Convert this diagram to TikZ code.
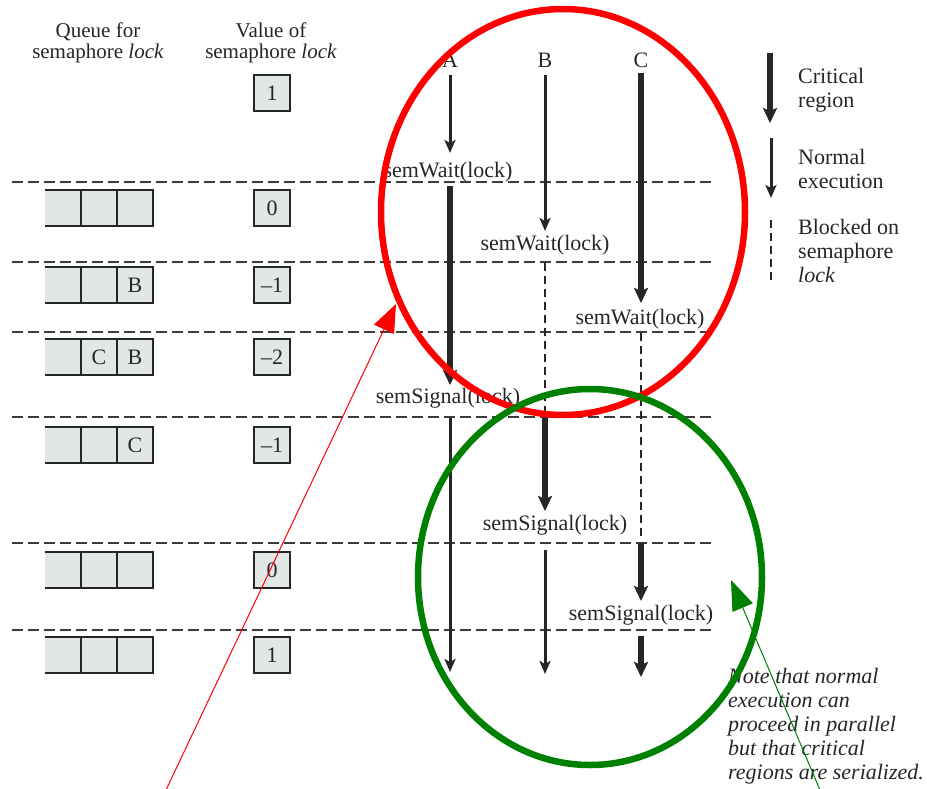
\documentclass[tikz,border=0pt]{standalone}
\usepackage{fontspec}
\setmainfont{Liberation Serif}
\usetikzlibrary{arrows.meta}
\definecolor{qfill}{HTML}{E1E6E6}
\definecolor{ink}{HTML}{262626}
\definecolor{dgreen}{HTML}{008000}
\begin{document}
\begin{tikzpicture}[x=1pt,y=-1pt,
  txt/.style={font=\fontsize{22}{24}\selectfont, text=ink, inner sep=0pt},
  hdr/.style={font=\fontsize{21}{21}\selectfont, text=ink, inner sep=0pt, align=center},
  valbox/.style={draw=ink, line width=2.4pt, fill=qfill, minimum width=36pt, minimum height=36pt, inner sep=0pt, font=\fontsize{22}{24}\selectfont, text=ink},
  qbox/.style={fill=qfill, minimum width=108pt, minimum height=36pt, inner sep=0pt},
  qline/.style={draw=ink, line width=2.4pt},
  cell/.style={font=\fontsize{22}{24}\selectfont, text=ink, inner sep=0pt},
  sep/.style={draw=ink!90, line width=2pt, dash pattern=on 11pt off 5pt},
  normal/.style={draw=ink, line width=3pt, -{Stealth[length=13pt,width=11pt,inset=3pt]}},
  crit/.style={draw=ink, line width=6pt, -{Stealth[length=15pt,width=14pt,inset=3pt]}},
  blocked/.style={draw=ink, line width=2.4pt, dash pattern=on 8pt off 5pt},
  note/.style={font=\fontsize{22}{24}\selectfont\itshape, text=ink, inner sep=0pt, align=left},
  ring/.style={line width=6.5pt},
  pointer/.style={line width=1pt},
]
\useasboundingbox (0,0) rectangle (927,788);

% headers
\node[hdr] (hq) at (98,43) {Queue for\\semaphore \textit{lock}};
\node[hdr] (hv) at (271,43) {Value of\\semaphore \textit{lock}};

% initial value
\node[valbox] (v0) at (272,93) {1};

% separators
\foreach \i/\y in {1/182,2/262,3/332,4/417,5/543,6/630}{
  \coordinate (L\i) at (12,\y);
  \coordinate (R\i) at (712,\y);
  \draw[sep] (L\i) -- (R\i);
}

% queue rows and values
\foreach \i/\y/\a/\b/\c/\v in {1/208///{}/0, 2/285///B/{--1}, 3/357//C/B/{--2}, 4/445///C/{--1}, 5/570///{}/0, 6/655///{}/1}{
  \node[qbox] (q\i) at (99,\y) {};
  \draw[qline] (q\i.north west) -- (q\i.north east) -- (q\i.south east) -- (q\i.south west);
  \draw[qline] ([xshift=36pt]q\i.north west) -- ([xshift=36pt]q\i.south west);
  \draw[qline] ([xshift=72pt]q\i.north west) -- ([xshift=72pt]q\i.south west);
  \node[cell] (qa\i) at (63,\y) {\a};
  \node[cell] (qb\i) at (99,\y) {\b};
  \node[cell] (qc\i) at (135,\y) {\c};
  \node[valbox] (v\i) at (272,\y) {\v};
}

% process labels
\node[txt] (A) at (450,60) {A};
\node[txt] (B) at (545,60) {B};
\node[txt] (C) at (641,60) {C};

% operation labels
\node[txt] (sw1) at (448,172) {semWait(lock)};
\node[txt] (sw2) at (545,245) {semWait(lock)};
\node[txt] (sw3) at (640,319) {semWait(lock)};
\node[txt] (ss1) at (448,398) {semSignal(lock)};
\node[txt] (ss2) at (555,525) {semSignal(lock)};
\node[txt] (ss3) at (641,615) {semSignal(lock)};

% process A
\coordinate (a0) at (450,75);  \coordinate (a1) at (450,153);
\coordinate (a2) at (450,186); \coordinate (a3) at (450,385);
\coordinate (a4) at (450,418); \coordinate (a5) at (450,672);
\draw[normal] (a0) -- (a1);
\draw[crit] (a2) -- (a3);
\draw[normal] (a4) -- (a5);

% process B
\coordinate (b0) at (545,75);  \coordinate (b1) at (545,231);
\coordinate (b2) at (545,263); \coordinate (b3) at (545,417);
\coordinate (b4) at (545,418); \coordinate (b5) at (545,511);
\coordinate (b6) at (545,550); \coordinate (b7) at (545,674);
\draw[normal] (b0) -- (b1);
\draw[blocked] (b2) -- (b3);
\draw[crit] (b4) -- (b5);
\draw[normal] (b6) -- (b7);

% process C
\coordinate (c0) at (641,73);  \coordinate (c1) at (641,303);
\coordinate (c2) at (641,333); \coordinate (c3) at (641,537);
\coordinate (c4) at (641,543); \coordinate (c5) at (641,601);
\coordinate (c6) at (641,636); \coordinate (c7) at (641,677);
\draw[crit] (c0) -- (c1);
\draw[blocked] (c2) -- (c3);
\draw[crit] (c4) -- (c5);
\draw[crit] (c6) -- (c7);

% legend
\coordinate (k0) at (770,53);  \coordinate (k1) at (770,123);
\coordinate (k2) at (771,138); \coordinate (k3) at (771,198);
\coordinate (k4) at (771,220); \coordinate (k5) at (771,281);
\draw[crit] (k0) -- (k1);
\draw[normal] (k2) -- (k3);
\draw[blocked] (k4) -- (k5);
\node[txt, anchor=west, align=left] (lk1) at (798,90) {Critical\\region};
\node[txt, anchor=west, align=left] (lk2) at (798,169) {Normal\\execution};
\node[txt, anchor=west, align=left] (lk3) at (798,251) {Blocked on\\semaphore\\\textit{lock}};

% note
\node[note, anchor=west] (nt) at (728,726) {Note that normal\\execution can\\proceed in parallel\\but that critical\\regions are serialized.};

% annotations
\draw[ring, red] (563,212) ellipse [x radius=182, y radius=203];
\draw[ring, dgreen] (590,577) ellipse [x radius=172, y radius=188];
\coordinate (rs) at (166,790); \coordinate (rt) at (396,304);
\draw[pointer, red, -{Triangle[length=28pt,width=22pt]}] (rs) -- (rt);
\coordinate (gs) at (820,790); \coordinate (gt) at (731,580);
\draw[pointer, dgreen, -{Triangle[length=30pt,width=22pt]}] (gs) -- (gt);
\end{tikzpicture}
\end{document}
